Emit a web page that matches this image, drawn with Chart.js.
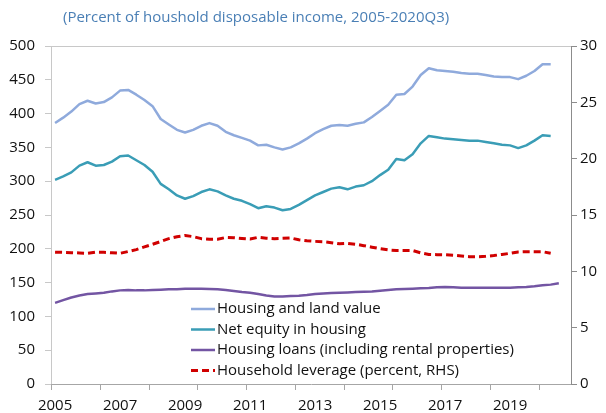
<!DOCTYPE html>
<html>
<head>
<meta charset="utf-8">
<script src="https://cdn.jsdelivr.net/npm/chart.js@4"></script>
<style>
  html, body { margin: 0; padding: 0; background: #fff; }
  #wrap { width: 606px; height: 413px; position: relative; }
</style>
</head>
<body>
<div id="wrap"><canvas id="chart" width="606" height="413"></canvas></div>
<script>
// quarterly categories 2005Q1 .. 2020Q4 (last slot empty)
const years = [2005, 2006, 2007, 2008, 2009, 2010, 2011, 2012, 2013, 2014, 2015, 2016, 2017, 2018, 2019, 2020];
const quarters = ['Q1', 'Q2', 'Q3', 'Q4'];
const categories = [];
years.forEach(y => quarters.forEach(q => categories.push(y + q)));

const titleText = '(Percent of houshold disposable income, 2005-2020Q3)';

const housingValue = [
  386, 394, 403, 414, 419, 415, 417, 424, 434, 435,
  428, 420, 411, 392, 384, 376, 372, 376, 382, 386,
  382, 373, 368, 364, 360, 353, 354, 350, 347, 350,
  356, 363, 371, 377, 382, 383, 382, 385, 387, 395,
  404, 413, 428, 429, 440, 457, 467, 464, 463, 462,
  460, 459, 459, 457, 455, 454, 454, 451, 456, 463,
  473, 473
];

const netEquity = [
  302, 307, 313, 323, 328, 323, 324, 329, 337, 338,
  331, 324, 314, 296, 288, 279, 274, 278, 284, 288,
  285, 279, 274, 271, 266, 260, 263, 261, 257, 259,
  265, 272, 279, 284, 289, 291, 288, 292, 294, 300,
  309, 317, 333, 331, 340, 356, 367, 365, 363, 362,
  361, 360, 360, 358, 356, 354, 353, 349, 353, 360,
  368, 367
];

const housingLoans = [
  120, 124, 128, 131, 133, 134, 135, 137, 138.5, 139,
  138.5, 138.5, 139, 139.5, 140, 140, 141, 141, 141, 140.5,
  140, 139, 137.5, 136, 135, 133, 131, 129.5, 129.5, 130,
  130.5, 131.5, 133, 134, 134.5, 135, 135.5, 136, 136.5, 137,
  138, 139, 140, 140.5, 141, 141.5, 142, 143, 143.5, 143,
  142.5, 142.5, 142.5, 142.5, 142.5, 142.5, 142.5, 143, 143.5, 144.5,
  146, 147, 149
];

const leverage = [
  11.70, 11.68, 11.66, 11.63, 11.60, 11.70, 11.69, 11.65, 11.60, 11.76,
  11.93, 12.17, 12.40, 12.65, 12.90, 13.07, 13.18, 13.08, 12.90, 12.84,
  12.85, 13.00, 12.98, 12.92, 12.87, 13.02, 12.94, 12.90, 12.93, 12.96,
  12.80, 12.72, 12.66, 12.63, 12.54, 12.44, 12.48, 12.40, 12.28, 12.14,
  12.01, 11.90, 11.85, 11.85, 11.85, 11.64, 11.50, 11.48, 11.47, 11.43,
  11.36, 11.30, 11.30, 11.33, 11.40, 11.50, 11.60, 11.72, 11.74, 11.74,
  11.74, 11.60
];

const leftTicks = { min: 0, max: 500, step: 50 };
const rightTicks = { min: 0, max: 30, step: 5 };

const FONT = '"Open Sans", "Noto Sans", sans-serif';

// title, top frame line, x tick marks and in-plot legend
const decorPlugin = {
  id: 'decor',
  afterDraw(chart) {
    const ctx = chart.ctx;
    const area = chart.chartArea;
    const x = chart.scales.x;
    ctx.save();

    // title
    ctx.font = '15px ' + FONT;
    ctx.fillStyle = '#4a7fb5';
    ctx.textBaseline = 'middle';
    ctx.textAlign = 'left';
    ctx.fillText(titleText, area.left + 12, 18);

    // top frame
    ctx.strokeStyle = '#c8c8c8';
    ctx.lineWidth = 1;
    ctx.beginPath();
    ctx.moveTo(area.left, area.top + 0.5);
    ctx.lineTo(area.right, area.top + 0.5);
    ctx.stroke();

    // x tick marks every 6 quarters, on category boundaries
    const half = (x.getPixelForValue(1) - x.getPixelForValue(0)) / 2;
    ctx.strokeStyle = '#a6a6a6';
    ctx.beginPath();
    for (let i = 0; i < categories.length; i += 6) {
      const px = Math.round(x.getPixelForValue(i) - half) + 0.5;
      ctx.moveTo(px, area.bottom);
      ctx.lineTo(px, area.bottom + 6);
    }
    ctx.stroke();

    // legend
    const items = chart.data.datasets;
    const lx = area.left + 140;
    let ly = area.bottom - 75;
    ctx.font = '15px ' + FONT;
    ctx.fillStyle = '#111';
    items.forEach(ds => {
      ctx.strokeStyle = ds.borderColor;
      ctx.lineWidth = ds.borderWidth;
      ctx.setLineDash(ds.borderDash || []);
      ctx.beginPath();
      ctx.moveTo(lx, ly);
      ctx.lineTo(lx + 24, ly);
      ctx.stroke();
      ctx.setLineDash([]);
      ctx.fillText(ds.label, lx + 26, ly);
      ly += 20.5;
    });

    ctx.restore();
  }
};

new Chart(document.getElementById('chart'), {
  type: 'line',
  data: {
    labels: categories,
    datasets: [
      { label: 'Housing and land value', data: housingValue, borderColor: '#8faadc', borderWidth: 2.5, yAxisID: 'y' },
      { label: 'Net equity in housing', data: netEquity, borderColor: '#3a9db6', borderWidth: 2.5, yAxisID: 'y' },
      { label: 'Housing loans (including rental properties)', data: housingLoans, borderColor: '#7355a3', borderWidth: 2.5, yAxisID: 'y' },
      { label: 'Household leverage (percent, RHS)', data: leverage, borderColor: '#d00000', borderWidth: 3, borderDash: [7, 4], yAxisID: 'y1' }
    ]
  },
  options: {
    responsive: false,
    animation: false,
    layout: { padding: { top: 46, left: 0, right: 0, bottom: 0 } },
    elements: {
      point: { radius: 0 },
      line: { tension: 0, fill: false, borderCapStyle: 'butt', borderJoinStyle: 'round' }
    },
    plugins: {
      legend: { display: false },
      title: { display: false },
      tooltip: { enabled: false }
    },
    scales: {
      x: {
        type: 'category',
        offset: true,
        grid: { display: false, drawTicks: false },
        border: { display: true, color: '#a6a6a6' },
        ticks: {
          autoSkip: false,
          maxRotation: 0,
          padding: 13,
          color: '#111',
          font: { family: FONT, size: 15 },
          callback: (v, i) => (i % 8 === 0 ? categories[i].slice(0, 4) : '')
        },
        afterFit: s => { s.height = 29; }
      },
      y: {
        position: 'left',
        min: leftTicks.min,
        max: leftTicks.max,
        ticks: { stepSize: leftTicks.step, padding: 10, color: '#111', font: { family: FONT, size: 15 } },
        grid: { drawOnChartArea: false, drawTicks: true, tickLength: 6, color: '#c8c8c8' },
        border: { color: '#c8c8c8' },
        afterFit: s => { s.width = 51; }
      },
      y1: {
        position: 'right',
        min: rightTicks.min,
        max: rightTicks.max,
        ticks: { stepSize: rightTicks.step, padding: 3, color: '#111', font: { family: FONT, size: 15 } },
        grid: { drawOnChartArea: false, drawTicks: true, tickLength: 6, color: '#8c8c8c' },
        border: { color: '#8c8c8c' },
        afterFit: s => { s.width = 35; }
      }
    }
  },
  plugins: [decorPlugin]
});
</script>
</body>
</html>
